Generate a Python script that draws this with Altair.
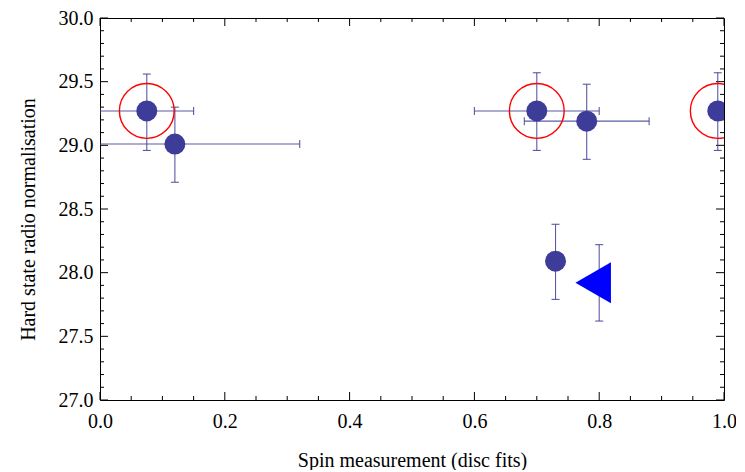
import altair as alt
import pandas as pd

# ---- data ----
spin = [0.075, 0.12, 0.70, 0.78, 0.73, 0.80, 0.99]
norm = [29.27, 29.01, 29.27, 29.19, 28.09, 27.92, 29.27]
norm_lo = [28.96, 28.71, 28.96, 28.89, 27.79, 27.62, 28.96]
norm_hi = [29.56, 29.30, 29.57, 29.48, 28.38, 28.22, 29.57]

xerr_spin = [0.075, 0.12, 0.70, 0.78]
xerr_norm = [29.27, 29.01, 29.27, 29.19]
xerr_lo = [0.0, -0.08, 0.60, 0.68]
xerr_hi = [0.15, 0.32, 0.80, 0.88]

ring_spin = [0.075, 0.70, 0.99]
ring_norm = [29.27, 29.27, 29.27]

tri_spin = [0.80]
tri_norm = [27.92]

x_major = [0.0, 0.2, 0.4, 0.6, 0.8, 1.0]
x_minor = [0.05, 0.1, 0.15, 0.25, 0.3, 0.35, 0.45, 0.5, 0.55,
           0.65, 0.7, 0.75, 0.85, 0.9, 0.95]
y_major = [27.0, 27.5, 28.0, 28.5, 29.0, 29.5, 30.0]
y_minor = [27.1, 27.2, 27.3, 27.4, 27.6, 27.7, 27.8, 27.9,
           28.1, 28.2, 28.3, 28.4, 28.6, 28.7, 28.8, 28.9,
           29.1, 29.2, 29.3, 29.4, 29.6, 29.7, 29.8, 29.9]

x_title = "Spin measurement (disc fits)"
y_title = "Hard state radio normalisation"

W, H = 624, 382
FONT = "Liberation Serif"
PT = "#3d3d99"

pts = pd.DataFrame({"spin": spin, "norm": norm, "lo": norm_lo, "hi": norm_hi})
xe = pd.DataFrame({"spin": xerr_spin, "norm": xerr_norm, "lo": xerr_lo, "hi": xerr_hi})
rings = pd.DataFrame({"spin": ring_spin, "norm": ring_norm})
tri = pd.DataFrame({"spin": tri_spin, "norm": tri_norm})

xs = alt.Scale(domain=[0, 1], nice=False, zero=False)
ys = alt.Scale(domain=[27, 30], nice=False, zero=False)
xaxis = alt.Axis(values=x_major, format=".1f", ticks=False, tickSize=0, domain=False,
                 grid=False, labelFlush=False, labelPadding=11, labelOverlap=False,
                 titleBaseline="middle", titleY=60)
yaxis = alt.Axis(values=y_major, format=".1f", ticks=False, tickSize=0, domain=False,
                 grid=False, labelFlush=False, labelPadding=7, labelOverlap=False,
                 titleBaseline="middle", titleX=-72, titleY=H / 2 + 10)


def X(f):
    return alt.X(f, type="quantitative", scale=xs, axis=xaxis, title=x_title)


def Y(f):
    return alt.Y(f, type="quantitative", scale=ys, axis=yaxis, title=y_title)


# error bars
v_err = alt.Chart(pts).mark_rule(color=PT, strokeWidth=1.1, opacity=0.85, clip=True).encode(
    x=X("spin"), y=Y("lo"), y2="hi")
v_cap_lo = alt.Chart(pts).mark_tick(color=PT, orient="horizontal", size=8, thickness=1.1,
                                     opacity=0.85, clip=True).encode(x=X("spin"), y=Y("lo"))
v_cap_hi = alt.Chart(pts).mark_tick(color=PT, orient="horizontal", size=8, thickness=1.1,
                                     opacity=0.85, clip=True).encode(x=X("spin"), y=Y("hi"))
h_err = alt.Chart(xe).mark_rule(color=PT, strokeWidth=1.1, opacity=0.85, clip=True).encode(
    x=X("lo"), x2="hi", y=Y("norm"))
h_cap_lo = alt.Chart(xe).mark_tick(color=PT, orient="vertical", size=8, thickness=1.1,
                                    opacity=0.85, clip=True).encode(x=X("lo"), y=Y("norm"))
h_cap_hi = alt.Chart(xe).mark_tick(color=PT, orient="vertical", size=8, thickness=1.1,
                                    opacity=0.85, clip=True).encode(x=X("hi"), y=Y("norm"))

dots = alt.Chart(pts).mark_point(shape="circle", filled=True, size=440, color=PT,
                                  opacity=1, clip=True).encode(x=X("spin"), y=Y("norm"))
ring_layer = alt.Chart(rings).mark_point(shape="circle", filled=False, size=3000, color="#ff0000",
                                          strokeWidth=1.4, opacity=1, clip=True).encode(
    x=X("spin"), y=Y("norm"))
tri_layer = alt.Chart(tri).mark_point(shape="triangle-left", filled=True, size=1681,
                                       color="#0000ff", opacity=1, xOffset=-6, clip=True).encode(
    x=X("spin"), y=Y("norm"))

# inward frame ticks
tick_layers = []
for vals, L in ((x_major, 8), (x_minor, 4)):
    d = pd.DataFrame({"v": vals})
    tick_layers.append(alt.Chart(d).mark_rule(color="black", strokeWidth=1).encode(
        x=X("v"), y=alt.value(H), y2=alt.value(H - L)))
    tick_layers.append(alt.Chart(d).mark_rule(color="black", strokeWidth=1).encode(
        x=X("v"), y=alt.value(0), y2=alt.value(L)))
for vals, L in ((y_major, 8), (y_minor, 4)):
    d = pd.DataFrame({"v": vals})
    tick_layers.append(alt.Chart(d).mark_rule(color="black", strokeWidth=1).encode(
        y=Y("v"), x=alt.value(0), x2=alt.value(L)))
    tick_layers.append(alt.Chart(d).mark_rule(color="black", strokeWidth=1).encode(
        y=Y("v"), x=alt.value(W), x2=alt.value(W - L)))

chart = alt.layer(
    *tick_layers, h_err, h_cap_lo, h_cap_hi, v_err, v_cap_lo, v_cap_hi,
    dots, ring_layer, tri_layer
).properties(
    width=W, height=H,
    autosize=alt.AutoSizeParams(type="none"),
    padding={"left": 92, "top": 10, "right": 12, "bottom": 70},
    background="white",
).configure_view(
    stroke="black", strokeWidth=1
).configure_axis(
    labelFont=FONT, titleFont=FONT, labelFontSize=20, titleFontSize=20,
    titleFontWeight="normal", labelColor="black", titleColor="black"
)

chart.save("out.html", embed_options={"renderer": "svg", "actions": False})
